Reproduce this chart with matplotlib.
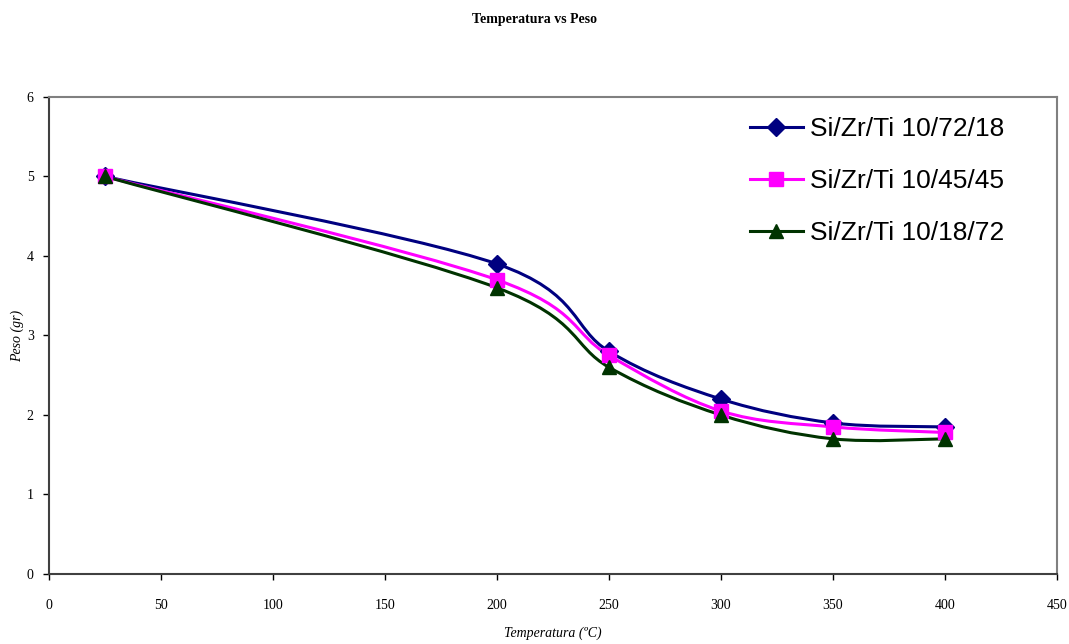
import numpy as np
import matplotlib
matplotlib.use("Agg")
import matplotlib.pyplot as plt
from matplotlib.path import Path
from matplotlib.patches import PathPatch
from matplotlib.lines import Line2D

temperatura = [25, 200, 250, 300, 350, 400]
peso_72_18 = [5.0, 3.9, 2.8, 2.2, 1.9, 1.85]
peso_45_45 = [5.0, 3.7, 2.75, 2.05, 1.85, 1.78]
peso_18_72 = [5.0, 3.6, 2.6, 2.0, 1.7, 1.7]
labels = ["Si/Zr/Ti 10/72/18", "Si/Zr/Ti 10/45/45", "Si/Zr/Ti 10/18/72"]
colors = ["#000080", "#FF00FF", "#003300"]
markers = ["D", "s", "^"]
msizes = [9.5, 10.5, 10.5]

fig = plt.figure(figsize=(10.69, 6.44), dpi=100)
ax = fig.add_axes([0.0458, 0.1087, 0.943, 0.7407])
ax.set_xlim(0, 450)
ax.set_ylim(0, 6)

def smooth_path(ax, xs, ys):
    # Bezier smoothing (Catmull-Rom style) in display space, like spreadsheet "smoothed line"
    pts = ax.transData.transform(np.column_stack([xs, ys]))
    n = len(pts)
    verts = [pts[0]]
    codes = [Path.MOVETO]
    for i in range(n - 1):
        p0 = pts[i - 1] if i > 0 else pts[i]
        p1 = pts[i]
        p2 = pts[i + 1]
        p3 = pts[i + 2] if i + 2 < n else pts[i + 1]
        c1 = p1 + (p2 - p0) / 6.0
        c2 = p2 - (p3 - p1) / 6.0
        verts += [c1, c2, p2]
        codes += [Path.CURVE4] * 3
    verts = ax.transData.inverted().transform(np.array(verts))
    return Path(verts, codes)

handles = []
for ys, c, m, ms, lab in zip([peso_72_18, peso_45_45, peso_18_72], colors, markers, msizes, labels):
    p = smooth_path(ax, temperatura, ys)
    ax.add_patch(PathPatch(p, facecolor="none", edgecolor=c, lw=2.2, zorder=3))
    ax.plot(temperatura, ys, linestyle="none", marker=m, color=c, markersize=ms, zorder=4)
    handles.append(Line2D([], [], color=c, lw=2.2, marker=m, markersize=ms, label=lab))

ax.set_xticks(np.arange(0, 451, 50))
ax.set_yticks(np.arange(0, 7, 1))
for lbl in ax.get_xticklabels() + ax.get_yticklabels():
    lbl.set_family("Liberation Serif")
    lbl.set_fontsize(10)
ax.tick_params(axis="x", direction="out", length=4, width=1, colors="#000000", pad=14)
ax.tick_params(axis="y", direction="out", length=4, width=1, colors="#000000", pad=7)

for s in ["top", "right"]:
    ax.spines[s].set_color("#808080")
    ax.spines[s].set_linewidth(1.5)
for s in ["left", "bottom"]:
    ax.spines[s].set_color("#404040")
    ax.spines[s].set_linewidth(1.5)

ax.set_xlabel("Temperatura (ºC)", family="Liberation Serif", style="italic", fontsize=10)
ax.set_ylabel("Peso (gr)", family="Liberation Serif", style="italic", fontsize=10)
# label positions in axes coordinates
ax.xaxis.set_label_coords(0.5, -0.125)
ax.yaxis.set_label_coords(-0.031, 0.5)
ax.xaxis.label.set_va("center")
ax.yaxis.label.set_va("center")
fig.text(0.5, 0.969, "Temperatura vs Peso", family="Liberation Serif", weight="bold",
         fontsize=10, ha="center", va="center")

leg = ax.legend(handles=handles, loc="upper left", bbox_to_anchor=(0.6954, 0.958), frameon=False,
                prop={"family": "Liberation Sans", "size": 19}, handlelength=2.0,
                handletextpad=0.27, labelspacing=1.07, borderaxespad=0, borderpad=0)

fig.savefig("out.png", dpi=100)
